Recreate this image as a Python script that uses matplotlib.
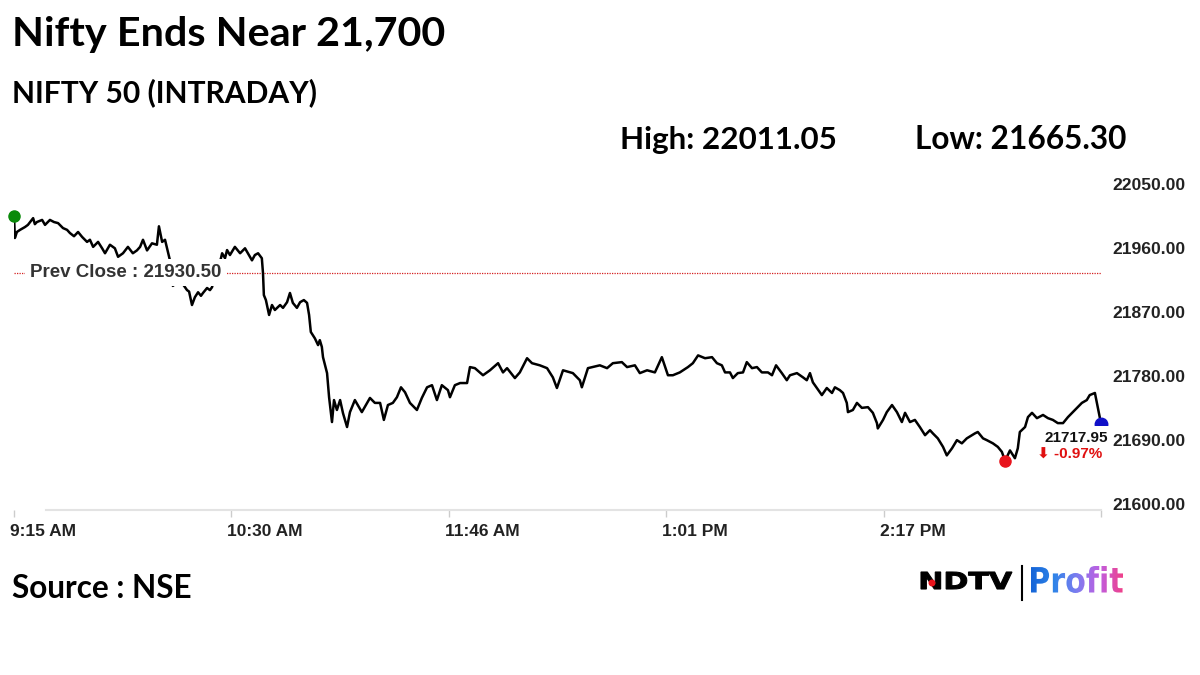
import matplotlib
matplotlib.use('Agg')
import numpy as np
import matplotlib.pyplot as plt
from matplotlib.transforms import ScaledTranslation, Affine2D
from matplotlib.textpath import TextPath
from matplotlib.patches import PathPatch, Circle
from matplotlib.font_manager import FontProperties
from matplotlib.colors import LinearSegmentedColormap

# minutes after 9:15 AM
minutes = [
    0, 0.3, 1.0, 2.1, 3.8, 4.8, 6.6, 7.2, 7.9, 9.7,
    10.7, 12.4, 13.8, 15.2, 16.9, 18.3, 19.3, 20.7, 22.1, 23.5,
    25.2, 26.2, 27.3, 29.0, 30.4, 31.4, 33.1, 34.8, 35.9, 37.6,
    39.3, 41.0, 42.4, 43.5, 44.5, 45.9, 47.6, 49.3, 50.0, 51.1,
    52.1, 52.8, 53.8, 54.8, 57.3, 59.7, 60.4, 61.4, 62.4, 63.5,
    64.5, 65.2, 66.6, 67.6, 68.3, 70.0, 71.4, 71.8, 72.8, 73.5,
    74.5, 76.2, 78.0, 79.7, 80.7, 82.1, 83.1, 84.2, 85.5, 85.9,
    86.2, 86.9, 88.0, 89.0, 90.0, 91.8, 92.8, 94.2, 95.2, 96.2,
    97.6, 98.7, 100.0, 101.1, 101.8, 102.4, 103.8, 104.9, 105.5, 106.2,
    106.6, 108.0, 108.7, 109.7, 110.4, 111.4, 112.5, 113.5, 114.9, 115.9,
    117.6, 118.6, 120.0, 121.8, 122.8, 124.5, 126.3, 127.6, 129.0, 130.7,
    132.1, 133.5, 134.9, 136.6, 139.0, 140.7, 142.5, 144.2, 145.9, 147.6,
    149.7, 150.4, 152.1, 153.9, 156.3, 157.3, 159.0, 161.8, 164.2, 167.0,
    168.7, 170.1, 172.8, 174.5, 177.0, 178.7, 181.4, 183.9, 185.9, 187.3,
    189.4, 192.8, 195.2, 195.9, 198.0, 202.1, 204.6, 206.6, 209.7, 211.5,
    214.2, 215.9, 218.4, 221.1, 223.5, 225.6, 227.3, 229.7, 232.5, 234.2,
    236.0, 238.4, 240.8, 242.5, 244.2, 245.3, 247.0, 248.0, 249.7, 251.5,
    252.8, 254.6, 256.3, 258.0, 260.1, 261.5, 262.9, 264.9, 266.6, 267.7,
    270.1, 272.2, 273.5, 274.6, 275.6, 278.0, 278.7, 280.4, 282.2, 283.2,
    284.9, 286.0, 287.3, 287.7, 289.4, 290.8, 292.5, 294.6, 296.3, 297.7,
    298.0, 299.8, 301.1, 302.9, 304.6, 306.3, 307.4, 309.1, 310.8, 312.5,
    314.3, 316.0, 317.0, 318.7, 320.5, 321.8, 323.6, 325.3, 327.0, 328.7,
    331.5, 332.5, 334.3, 335.6, 337.7, 339.4, 340.8, 341.9, 343.6, 345.3,
    346.3, 347.0, 348.8, 349.8, 351.2, 352.9, 355.0, 356.7, 358.4, 360.1,
    361.9, 363.6, 366.0, 368.4, 370.1, 371.1, 372.9, 375.0,
]

nifty = [
    22011.05, 21979.5, 21988, 21991, 21995, 21998, 22007.5, 21999, 22002, 22005,
    21998, 22005, 22002, 22000.5, 21993.5, 21991, 21986.5, 21982, 21988, 21981,
    21974, 21977, 21967, 21974, 21965, 21958, 21970, 21965, 21953, 21958,
    21967, 21958, 21962, 21967, 21977, 21962, 21972, 21970, 21996, 21974,
    21977, 21965, 21948, 21912, 21920, 21906, 21904, 21885, 21896, 21903,
    21898, 21902, 21909, 21906, 21910, 21934, 21951, 21958, 21951, 21962.5,
    21955.5, 21967, 21958, 21965, 21958, 21948, 21955.5, 21958, 21951, 21930,
    21899, 21892, 21871, 21885, 21878, 21885, 21881, 21889, 21902, 21888,
    21881, 21889, 21892, 21888, 21871, 21847, 21838, 21828.5, 21835.5, 21826,
    21811.5, 21789, 21755, 21720, 21751, 21737, 21751, 21732.5, 21713, 21734,
    21751, 21744, 21734, 21747, 21754, 21747, 21747, 21723, 21744, 21747,
    21755, 21769, 21762, 21747, 21737, 21754, 21769, 21772, 21751, 21772,
    21765, 21755, 21772, 21775, 21775, 21797.5, 21796, 21786, 21793, 21803,
    21790, 21796, 21782, 21790, 21810, 21803, 21800, 21796, 21783, 21768,
    21793, 21789, 21779, 21769, 21796, 21800, 21796, 21803, 21804.5, 21797.5,
    21800, 21789, 21793, 21790, 21811.5, 21786, 21786, 21790, 21797.5, 21803,
    21814, 21810, 21811.5, 21803, 21800, 21790, 21790, 21782, 21789, 21790,
    21804.5, 21796, 21797.5, 21790, 21790, 21786, 21800, 21789, 21779, 21786,
    21789, 21783, 21779, 21789, 21776, 21762, 21758, 21768, 21761, 21769,
    21765, 21761, 21747, 21734, 21737, 21747, 21740, 21741, 21733, 21718.5,
    21711, 21723, 21734, 21744, 21734, 21720, 21733, 21720, 21723, 21713,
    21701.5, 21708.5, 21704, 21697, 21685, 21673, 21683, 21694.5, 21690, 21697,
    21704, 21706, 21697, 21694.5, 21690, 21685, 21678, 21665.3, 21680, 21669,
    21683, 21706, 21713, 21727, 21733, 21725.5, 21730, 21725.5, 21723, 21718.5,
    21718.5, 21727, 21737, 21747, 21751, 21758, 21761, 21717.95,
]
assert len(minutes) == len(nifty)

prev_close = 21930.50
day_high = 22011.05
day_low = 21665.30
pct_change = -0.97

x_ticks = [0, 75, 150, 225, 300, 375]
x_labels = ['9:15 AM', '10:30 AM', '11:46 AM', '1:01 PM', '2:17 PM', '']
y_ticks = [21600, 21690, 21780, 21870, 21960, 22050]

W, H = 1200, 675
fig = plt.figure(figsize=(12, 6.75), dpi=100)


def fx(px):
    return px / W


def fy(py):
    return 1 - py / H


ax = fig.add_axes([fx(14), fy(510), (1101 - 14) / W, (510 - 188) / H])
ax.plot(minutes, nifty, color='black', lw=1.8, zorder=3)
ax.set_xlim(0, 375)
ax.set_ylim(21596, 22050)

# markers: open, day low, last
i_low = nifty.index(min(nifty))
ax.plot(minutes[0], nifty[0], 'o', color='#0a8a0a', ms=8, clip_on=False, zorder=4)
ax.plot(minutes[i_low], nifty[i_low], 'o', color='#e8141c', ms=8, clip_on=False, zorder=4)
ax.plot(minutes[-1], nifty[-1], 'o', color='#1010c8', ms=9, clip_on=False, zorder=4)

# previous close line
ax.axhline(prev_close, color='#d42020', lw=0.9, ls=(0, (1, 1)), zorder=2)
ax.text(5.5, prev_close, f'Prev Close : {prev_close:.2f}', family='Liberation Sans',
        fontweight='bold', fontsize=13.5, color='#333333', ha='left', va='center',
        zorder=6, bbox=dict(fc='white', ec='none', pad=3.5))

# last value annotation
ax.annotate(f'{nifty[-1]:.2f}', xy=(minutes[-1], nifty[-1]), xytext=(-25, -14),
            textcoords='offset pixels', ha='center', va='center', family='Liberation Sans',
            fontweight='bold', fontsize=11, color='#111111', zorder=6, annotation_clip=False,
            bbox=dict(fc='white', ec='none', pad=3.5))
ax.annotate(f'\u2b07 {pct_change:.2f}%', xy=(minutes[-1], nifty[-1]), xytext=(-31, -31),
            textcoords='offset pixels', ha='center', va='center',
            family=['Liberation Sans', 'DejaVu Sans'],
            fontweight='bold', fontsize=11, color='#e01010', zorder=6, annotation_clip=False)

for s in ['top', 'left', 'right']:
    ax.spines[s].set_visible(False)
ax.spines['bottom'].set_color('#e3e3e3')
ax.spines['bottom'].set_linewidth(1.5)
ax.spines['bottom'].set_bounds(11, 375)

ax.set_xticks(x_ticks)
ax.set_xticklabels(x_labels, family='Liberation Sans', fontweight='bold', fontsize=12.5,
                   color='#222222', ha='left')
ax.tick_params(axis='x', length=5, width=1, color='#cccccc', pad=5)
xshift = ScaledTranslation(-4 / 100, 0, fig.dpi_scale_trans)
for lab in ax.get_xticklabels():
    lab.set_transform(lab.get_transform() + xshift)

ax.yaxis.tick_right()
ax.set_yticks(y_ticks)
ax.set_yticklabels([f'{v:.2f}' for v in y_ticks], family='Liberation Sans',
                   fontweight='bold', fontsize=12.6, color='#222222')
ax.tick_params(axis='y', length=0, pad=8.5)
yshift = ScaledTranslation(0, 3.5 / 100, fig.dpi_scale_trans)
for lab in ax.get_yticklabels():
    lab.set_transform(lab.get_transform() + yshift)

# headings
head = dict(family='Lato', fontweight='bold', color='black', va='baseline', ha='left')
fig.text(fx(12), fy(46), 'Nifty Ends Near 21,700', fontsize=29.8, **head)
fig.text(fx(12), fy(102), 'NIFTY 50 (INTRADAY)', fontsize=21.6, **head)
fig.text(fx(620), fy(149), f'High: {day_high:.2f}', fontsize=22.6, **head)
fig.text(fx(915), fy(149), f'Low: {day_low:.2f}', fontsize=22.8, **head)
fig.text(fx(12), fy(598), 'Source : NSE', fontsize=22.7, **head)

# NDTV Profit logo
lg = fig.add_axes([fx(915), fy(605), 215 / W, 45 / H])
lg.axis('off')
fp = FontProperties(family='DejaVu Sans', weight='bold')


def word_patch(text, x0, x1, y_top, y_base, color, edge='none', ew=0):
    tp = TextPath((0, 0), text, size=100, prop=fp)
    ext = tp.get_extents()
    sx = (x1 - x0) / ext.width
    sy = (y_base - y_top) / ext.height
    tr = Affine2D().translate(-ext.x0, -ext.y0).scale(sx, -sy).translate(x0, y_base)
    p = PathPatch(tr.transform_path(tp), fc=color, ec=edge, lw=ew)
    lg.add_patch(p)
    return p


word_patch('NDTV', 921, 1012, 572, 589, 'black', edge='black', ew=0.8)
lg.add_patch(Circle((932, 583), 2.8, color='#e8141c', zorder=3))
lg.plot([1022, 1022], [566, 600], color='black', lw=1.5)
prof = word_patch('Profit', 1031, 1123, 566, 593, 'none')
cmap = LinearSegmentedColormap.from_list('prof', ['#1565d8', '#2f84e8', '#7d7cf0', '#c05ee0', '#f0408a'])
im = lg.imshow(np.linspace(0, 1, 256).reshape(1, -1), cmap=cmap, aspect='auto',
               extent=[1031, 1123, 593, 566])
im.set_clip_path(prof)
lg.set_xlim(915, 1130)
lg.set_ylim(605, 560)

fig.savefig('out.png', dpi=100, facecolor='white')
